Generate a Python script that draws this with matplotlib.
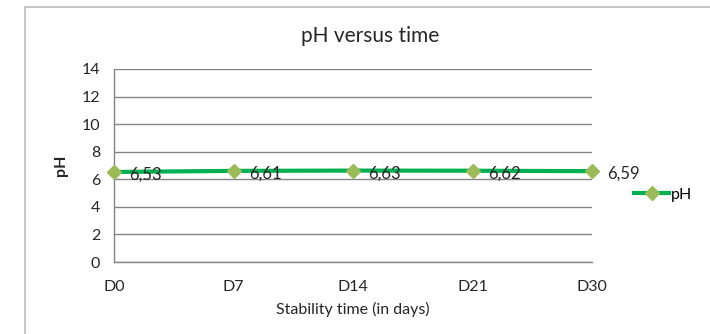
import matplotlib
matplotlib.use('Agg')
import matplotlib.pyplot as plt
from matplotlib.patches import Rectangle

plt.rcParams['font.family'] = ['Lato', 'DejaVu Sans']

days = ['D0', 'D7', 'D14', 'D21', 'D30']
ph = [6.53, 6.61, 6.63, 6.62, 6.59]
yticks = [0, 2, 4, 6, 8, 10, 12, 14]

fig = plt.figure(figsize=(7.1, 3.34), dpi=100)
ax = fig.add_axes([114/710, 1 - 262/334, (592 - 114)/710, (262 - 69)/334])

# outer chart border (Excel style)
fig.patches.append(Rectangle((25/710, -0.2), 1.2, 1.2 - 7/334,
                             transform=fig.transFigure, fill=False,
                             edgecolor='#bfbfbf', linewidth=1.2))

x = range(len(days))
ax.plot(x, ph, color='#00b050', linewidth=3, marker='D', markersize=7,
        markerfacecolor='#9bbb59', markeredgecolor='#9bbb59', label='pH',
        zorder=3, clip_on=False)

for xi, v in zip(x, ph):
    ax.annotate(f'{v:.2f}'.replace('.', ','), (xi, v), xytext=(11, -2),
                textcoords='offset points', ha='left', va='center',
                fontsize=12, color='#262626', zorder=4)

ax.set_xlim(0, len(days) - 1)
ax.set_ylim(0, 14)
ax.set_yticks(yticks)
ax.set_xticks(list(x))
ax.set_xticklabels(days)
ax.grid(axis='y', color='#868686', linewidth=1)
ax.set_axisbelow(True)
for s in ['top', 'right']:
    ax.spines[s].set_visible(False)
for s in ['left', 'bottom']:
    ax.spines[s].set_color('#868686')
    ax.spines[s].set_linewidth(1)
ax.tick_params(axis='both', length=0, labelsize=11.5, labelcolor='#262626')
ax.tick_params(axis='x', pad=13)
ax.tick_params(axis='y', pad=10)

# title centred on the chart frame, not on the plot area
fig.text(370/710, 1 - 36/334, 'pH versus time', fontsize=15, color='#262626',
         ha='center', va='center')
ax.set_xlabel('Stability time (in days)', fontsize=11.5, color='#262626', labelpad=6)
ax.set_ylabel('pH', fontsize=11.5, fontweight='bold', color='#262626', labelpad=10)

ax.legend(loc='center left', bbox_to_anchor=(1.075, 0.35), frameon=False,
          fontsize=11.5, handlelength=2.2, handletextpad=0.1, borderaxespad=0)

fig.savefig('out.png', dpi=100)
